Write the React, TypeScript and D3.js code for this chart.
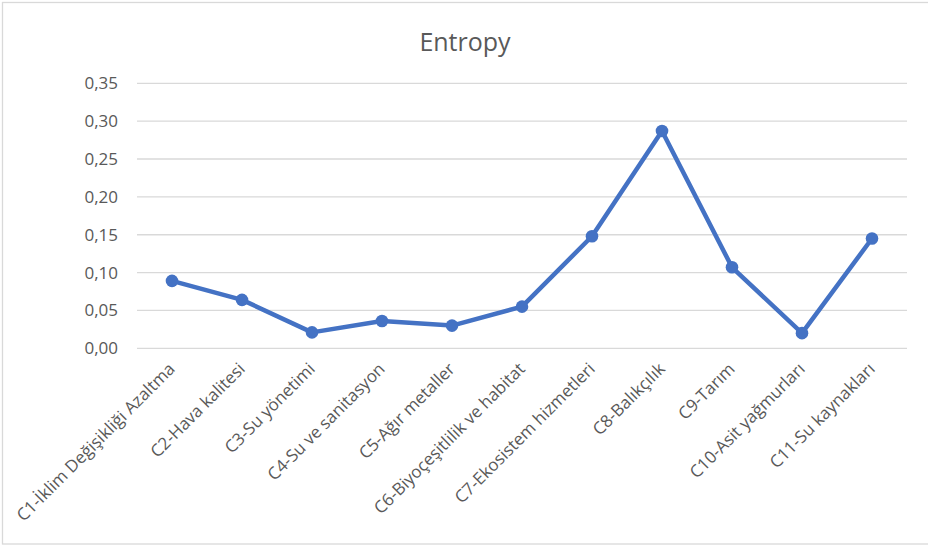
import React from "react";
import * as d3 from "d3";

const categories = [
  "C1-İklim Değişikliği Azaltma",
  "C2-Hava kalitesi",
  "C3-Su yönetimi",
  "C4-Su ve sanitasyon",
  "C5-Ağır metaller",
  "C6-Biyoçeşitlilik ve habitat",
  "C7-Ekosistem hizmetleri",
  "C8-Balıkçılık",
  "C9-Tarım",
  "C10-Asit yağmurları",
  "C11-Su kaynakları",
];
const values = [0.089, 0.064, 0.021, 0.036, 0.030, 0.055, 0.148, 0.287, 0.107, 0.020, 0.145];
const yTicks = [0, 0.05, 0.1, 0.15, 0.2, 0.25, 0.3, 0.35];
const title = "Entropy";

const W = 928;
const H = 548;
const FONT = "'Open Sans', sans-serif";
const TEXT = "#595959";
const GRID = "#D9D9D9";
const BLUE = "#4472C4";

export default function App() {
  const x = d3.scaleBand<string>().domain(categories).range([137, 907]).padding(0);
  const y = d3.scaleLinear().domain([0, 0.35]).range([348.3, 83.3]);
  const cx = (c: string) => (x(c) as number) + x.bandwidth() / 2;
  const fmt = (v: number) => d3.format(".2f")(v).replace(".", ",");
  const line = d3
    .line<number>()
    .x((_, i) => cx(categories[i]))
    .y((d) => y(d));

  return (
    <svg
      width={W}
      height={H}
      style={{ position: "absolute", left: 0, top: 0, display: "block", background: "#fff" }}
      fontFamily={FONT}
    >
      <rect x={2.5} y={2.5} width={W + 20} height={541.5} fill="#fff" stroke={GRID} strokeWidth={1.3} />
      <text x={465} y={51} textAnchor="middle" fontSize={25} fill={TEXT}>
        {title}
      </text>
      {yTicks.map((t) => (
        <g key={t}>
          <line x1={137} x2={907} y1={y(t)} y2={y(t)} stroke={GRID} strokeWidth={1.3} />
          <text x={118} y={y(t)} dy="0.35em" textAnchor="end" fontSize={17} fill={TEXT}>
            {fmt(t)}
          </text>
        </g>
      ))}
      {categories.map((c) => (
        <text
          key={c}
          transform={`translate(${cx(c) + 4},${370}) rotate(-45)`}
          textAnchor="end"
          fontSize={17}
          fill={TEXT}
        >
          {c}
        </text>
      ))}
      <path
        d={line(values) || ""}
        fill="none"
        stroke={BLUE}
        strokeWidth={4.5}
        strokeLinejoin="round"
        strokeLinecap="round"
      />
      {values.map((v, i) => (
        <circle key={i} cx={cx(categories[i])} cy={y(v)} r={6.3} fill={BLUE} />
      ))}
    </svg>
  );
}
